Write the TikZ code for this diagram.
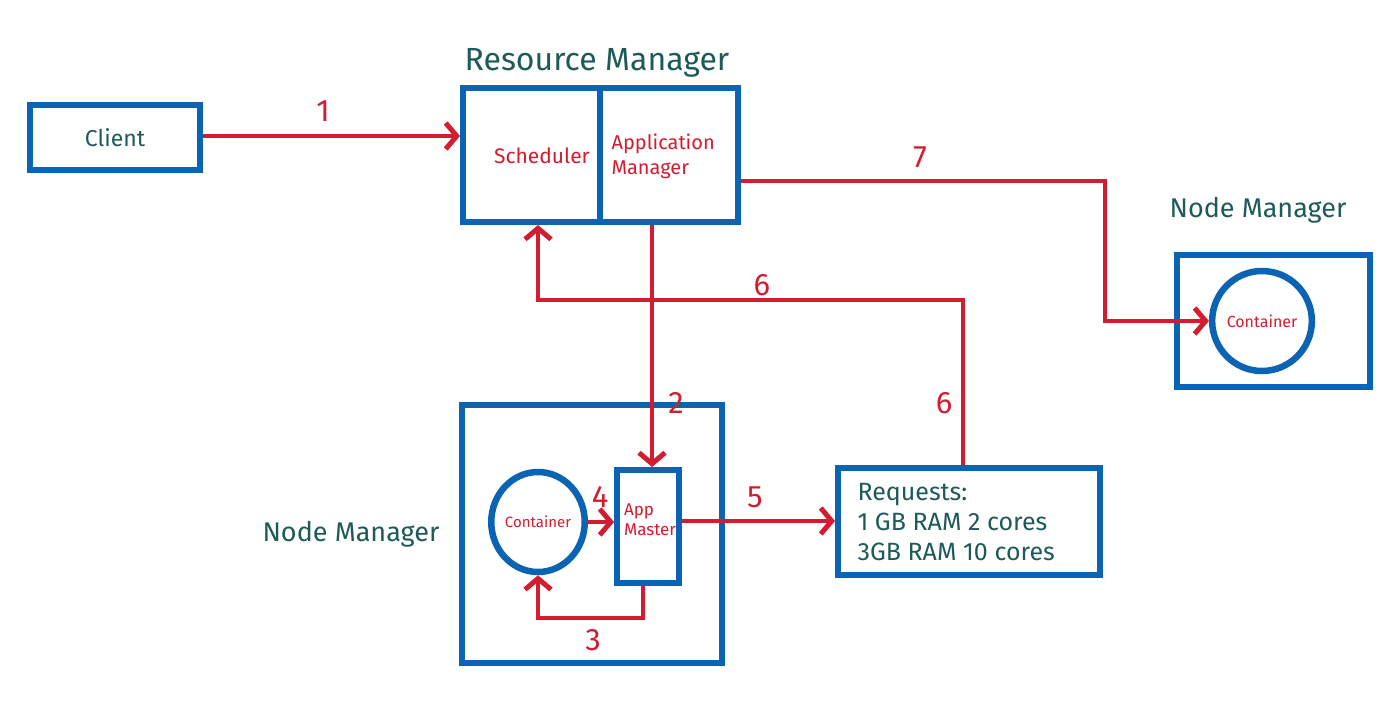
\documentclass[tikz,border=0pt]{standalone}
\usepackage{fontspec}
\setmainfont{Fira Sans}
\usetikzlibrary{arrows.meta,shapes.geometric,calc}
\definecolor{bluebox}{HTML}{0B64B3}
\definecolor{redline}{HTML}{D21C30}
\definecolor{tealtext}{HTML}{1D5A58}
\tikzset{
  box/.style={draw=bluebox,line width=6pt,rectangle,inner sep=0pt},
  cont/.style={draw=bluebox,line width=6.5pt,ellipse,inner sep=0pt,text=redline},
  rarrow/.style={draw=redline,line width=4.5pt,-{Straight Barb[length=11pt,width=26pt,line width=5pt]}},
  title/.style={text=tealtext,font=\fontsize{27}{30}\selectfont},
  num/.style={text=redline,font=\fontsize{31}{34}\selectfont},
  redtext/.style={text=redline,font=\fontsize{20}{25}\selectfont},
}
\begin{document}
\begin{tikzpicture}[x=1pt,y=-1pt]
\useasboundingbox (0,0) rectangle (1400,720);
% boxes
\node[box,minimum width=170pt,minimum height=65pt,text=tealtext,font=\fontsize{23}{26}\selectfont] (client) at (115,137.5) {Client};
\node[box,minimum width=275pt,minimum height=134pt] (rm) at (600.5,155) {};
\draw[bluebox,line width=6pt] (rm.north -| 600,0) coordinate (divtop) -- (rm.south -| divtop);
\node[title,font=\fontsize{32}{36}\selectfont] (rmtitle) at (597,63) {Resource Manager};
\node[redtext,font=\fontsize{21}{24}\selectfont] (sched) at (542,156) {Scheduler};
\node[redtext,align=left,anchor=west] (appman) at (608,156) {Application\\Manager};

\node[box,minimum width=193pt,minimum height=132pt] (nmr) at (1273.5,321) {};
\node[cont,minimum width=94pt,minimum height=100pt,font=\fontsize{16}{18}\selectfont] (rc) at (1262,321) {Container};
\node[title] (nmrtitle) at (1258,210) {Node Manager};

\node[box,minimum width=260pt,minimum height=258pt] (nml) at (592,534) {};
\node[title] (nmltitle) at (351,534) {Node Manager};
\node[cont,minimum width=90pt,minimum height=100pt,font=\fontsize{15}{18}\selectfont] (lc) at (538,522) {Container};
\node[box,minimum width=62pt,minimum height=113pt] (am) at (648,526.5) {};
\node[redtext,font=\fontsize{17}{20}\selectfont,align=left] (amtext) at (650,520) {App\\Master};

\node[box,minimum width=262pt,minimum height=107pt] (req) at (969,521.5) {};
\node[text=tealtext,font=\fontsize{25}{30}\selectfont,align=left,anchor=west] (reqtext) at (854,522) {Requests:\\1 GB RAM 2 cores\\3GB RAM 10 cores};

% coordinates
\coordinate (k7) at (1105,181);
\coordinate (k6) at (963,300);
\coordinate (k6b) at (538,300);
\coordinate (k2) at (652,0);
\coordinate (k5) at (0,521);
\coordinate (k3) at (643,618);

% connectors
\draw[rarrow] (client.east |- 0,136) -- (rm.west |- 0,136);
\draw[rarrow] (rm.east |- k7) -- (k7) |- (rc.west);
\draw[rarrow] (req.north -| k6) -- (k6) -- (k6b) -- (rm.south -| k6b);
\draw[rarrow] (rm.south -| k2) -- (am.north -| k2);
\draw[rarrow] (lc.east) -- (am.west |- lc.east);
\draw[rarrow] (am.east |- k5) -- (req.west |- k5);
\draw[rarrow] (am.south -| k3) -- (k3) -| (lc.south);

% labels
\node[num] (l1) at (323,111) {1};
\node[num] (l7) at (920,157) {7};
\node[num] (l6a) at (762,285) {6};
\node[num] (l6b) at (944,403) {6};
\node[num] (l2) at (676,403) {2};
\node[num] (l4) at (600,497) {4};
\node[num] (l5) at (755,497) {5};
\node[num] (l3) at (593,640) {3};
\end{tikzpicture}
\end{document}
